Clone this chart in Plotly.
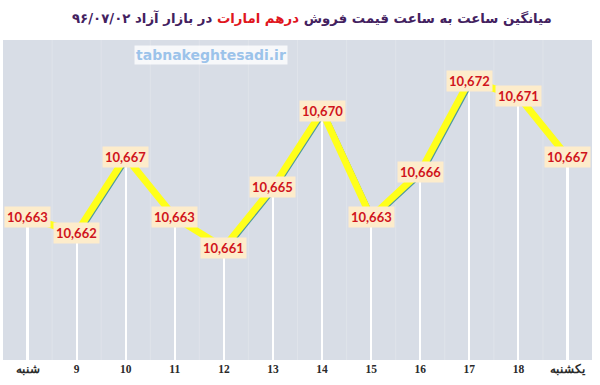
import plotly.graph_objects as go

categories = ["شنبه", "9", "10", "11", "12", "13", "14", "15", "16", "17", "18", "یکشنبه"]
values = [10663, 10662, 10667, 10663, 10661, 10665, 10670, 10663, 10666, 10672, 10671, 10667]
labels = [f"{v:,}" for v in values]
y_range = [10653.6, 10674.7]

idx = list(range(len(categories)))
x_range = [-0.5, len(categories) - 0.5]
fig = go.Figure()

# white drop lines from each point to the bottom
fig.add_trace(go.Bar(x=idx, y=[v - y_range[0] for v in values], base=y_range[0],
                     width=0.045, marker=dict(color="white", line=dict(width=0)),
                     hoverinfo="skip", showlegend=False))
# shadow of line (slightly shifted axes)
fig.add_trace(go.Scatter(x=idx, y=values, mode="lines", xaxis="x2", yaxis="y2",
                         line=dict(color="#4f9a9e", width=4), hoverinfo="skip", showlegend=False))
# main yellow line on top
fig.add_trace(go.Scatter(x=idx, y=values, mode="lines", xaxis="x3", yaxis="y3",
                         line=dict(color="#ffff1a", width=7), showlegend=False))

for i, (v, t) in enumerate(zip(values, labels)):
    fig.add_annotation(x=i, y=v, text="<b>" + t + "</b>", showarrow=False,
                       font=dict(family="Lato", size=13, color="#d0141c"),
                       bgcolor="#fdeccb", borderpad=2)

fig.add_annotation(xref="paper", yref="paper", x=0.525, y=1, yshift=22, xanchor="center", yanchor="middle",
                   text="<b>میانگین ساعت به ساعت قیمت فروش <span style='color:#e0161e'>درهم امارات</span> در بازار آزاد ۹۶/۰۷/۰۲</b>",
                   showarrow=False, font=dict(family="DejaVu Sans", size=13.3, color="#43215f"))

fig.add_annotation(xref="paper", yref="paper", x=0.222, y=1, yshift=-15, xanchor="left", yanchor="middle",
                   text="<b>tabnakeghtesadi.ir</b>", showarrow=False,
                   font=dict(family="DejaVu Sans", size=14, color="#9cc3ea"),
                   bgcolor="rgba(255,255,255,0.8)", borderpad=1)

shift = 0.045
fig.update_layout(
    width=600, height=385,
    margin=dict(l=3, r=8, t=40, b=25),
    paper_bgcolor="white", plot_bgcolor="#d8dde6",
    bargap=0,
    xaxis=dict(range=x_range, tickmode="array", tickvals=idx, ticktext=["<b>" + c + "</b>" for c in categories],
               showgrid=False, zeroline=False, showline=False, ticks="",
               tickfont=dict(family="Liberation Serif", size=11.5, color="#2a2a2a")),
    xaxis2=dict(range=[x_range[0] - shift, x_range[1] - shift], overlaying="x", visible=False),
    yaxis2=dict(range=[y_range[0] + 0.1, y_range[1] + 0.1], overlaying="y", visible=False),
    xaxis3=dict(range=x_range, overlaying="x", visible=False),
    yaxis3=dict(range=y_range, overlaying="y", visible=False),
    yaxis=dict(range=y_range, visible=False, showgrid=False, zeroline=False),
)

# faint boundary gridlines
for i in range(1, len(categories)):
    fig.add_shape(type="line", xref="x", yref="paper", x0=i - 0.5, x1=i - 0.5, y0=0, y1=1,
                  line=dict(color="#dfe3ea", width=1), layer="below")

fig.write_html("out.html")
